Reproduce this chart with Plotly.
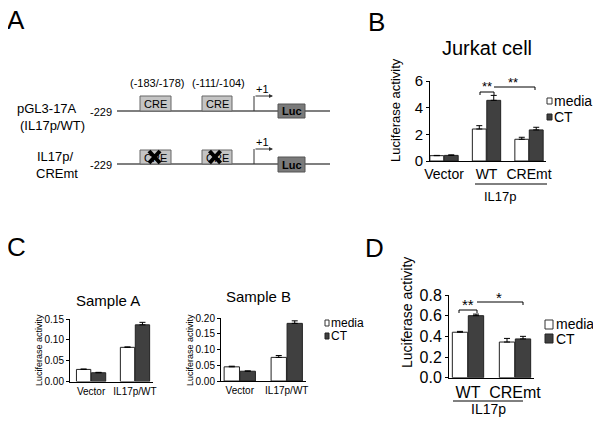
import plotly.graph_objects as go

# The page body has an 8px margin, so the figure is sized to fit inside it.
OFF = 8
W, H = 601 - 2 * OFF, 425 - 2 * OFF
FONT = "Liberation Sans, Arial, sans-serif"

# ---------------- data ----------------
# Panel B: Jurkat cell
b_cats = ["Vector", "WT", "CREmt"]
b_media = [0.40, 2.40, 1.63]
b_media_err = [0.02, 0.25, 0.15]
b_ct = [0.42, 4.55, 2.33]
b_ct_err = [0.04, 0.37, 0.20]
b_yticks = [0, 2, 4, 6]

# Panel C: Sample A / Sample B
c_cats = ["Vector", "IL17p/WT"]
ca_media = [0.029, 0.082]
ca_media_err = [0.001, 0.001]
ca_ct = [0.021, 0.136]
ca_ct_err = [0.001, 0.006]
ca_yticks = [0.00, 0.05, 0.10, 0.15]

cb_media = [0.045, 0.075]
cb_media_err = [0.002, 0.006]
cb_ct = [0.031, 0.183]
cb_ct_err = [0.001, 0.008]
cb_yticks = [0.00, 0.05, 0.10, 0.15, 0.20]

# Panel D
d_cats = ["WT", "CREmt"]
d_media = [0.44, 0.345]
d_media_err = [0.008, 0.035]
d_ct = [0.60, 0.375]
d_ct_err = [0.015, 0.025]
d_yticks = [0.0, 0.2, 0.4, 0.6, 0.8]

series_names = ["media", "CT"]
MEDIA_FILL = "white"
CT_FILL = "#404040"


def P(x):
    return (x - OFF) / W


def Q(y):
    return 1 - (y - OFF) / H


fig = go.Figure()


def add_pair(cats, med, med_err, ct, ct_err, xa, ya):
    for name, vals, err, fill in [
        (series_names[0], med, med_err, MEDIA_FILL),
        (series_names[1], ct, ct_err, CT_FILL),
    ]:
        fig.add_trace(go.Bar(
            x=cats, y=vals, name=name, xaxis=xa, yaxis=ya,
            marker=dict(color=fill, line=dict(color="#222222", width=1)),
            error_y=dict(type="data", array=err, arrayminus=[0] * len(err),
                         symmetric=False, color="black", thickness=1, width=3),
            showlegend=False,
        ))


add_pair(b_cats, b_media, b_media_err, b_ct, b_ct_err, "x", "y")
add_pair(c_cats, ca_media, ca_media_err, ca_ct, ca_ct_err, "x2", "y2")
add_pair(c_cats, cb_media, cb_media_err, cb_ct, cb_ct_err, "x3", "y3")
add_pair(d_cats, d_media, d_media_err, d_ct, d_ct_err, "x4", "y4")


def xax(px0, px1, rng, size, anchor):
    return dict(domain=[P(px0), P(px1)], range=rng, type="category", anchor=anchor,
                showline=True, linecolor="black", linewidth=1, ticks="",
                showgrid=False, zeroline=False, fixedrange=True,
                tickfont=dict(size=size, color="black", family=FONT))


def yax(py0, py1, rng, ticks, fmt, size, anchor):
    return dict(domain=[Q(py0), Q(py1)], range=rng, anchor=anchor,
                tickvals=ticks, tickformat=fmt,
                showline=True, linecolor="black", linewidth=1,
                ticks="outside", ticklen=3, tickwidth=1, tickcolor="black",
                showgrid=False, zeroline=False, fixedrange=True,
                tickfont=dict(size=size, color="black", family=FONT))


fig.update_layout(
    width=W, height=H, margin=dict(l=0, r=0, t=0, b=0, pad=0, autoexpand=False),
    paper_bgcolor="white", plot_bgcolor="white",
    barmode="group", bargap=0.32, bargroupgap=0.04,
    font=dict(family=FONT, color="black"),
    showlegend=False,
    xaxis=xax(430, 546, [-0.33, 2.4], 14, "y"),
    yaxis=yax(161, 81, [0, 6], b_yticks, "d", 15, "x"),
    xaxis2=xax(70, 153, [-0.48, 1.41], 10, "y2"),
    yaxis2=yax(381.5, 319, [0, 0.15], ca_yticks, ".2f", 10, "x2"),
    xaxis3=xax(221, 306, [-0.40, 1.41], 10, "y3"),
    yaxis3=yax(381, 318, [0, 0.20], cb_yticks, ".2f", 10, "x3"),
    xaxis4=xax(449, 534, [-0.404, 1.404], 16, "y4"),
    yaxis4=yax(377.7, 295, [0, 0.8], d_yticks, ".1f", 16, "x4"),
)

ann = []
shapes = []


def text(x, y, s, size, xanchor="center", angle=0, color="black", bold=False):
    if bold:
        s = "<b>" + s + "</b>"
    ann.append(dict(x=P(x), y=Q(y), xref="paper", yref="paper", text=s,
                    showarrow=False, xanchor=xanchor, yanchor="middle",
                    textangle=angle, borderpad=0,
                    font=dict(size=size, color=color, family=FONT)))


def line(x0, y0, x1, y1, color="black", width=1):
    shapes.append(dict(type="line", xref="paper", yref="paper",
                       x0=P(x0), y0=Q(y0), x1=P(x1), y1=Q(y1),
                       line=dict(color=color, width=width)))


def rect(x0, y0, x1, y1, fill, color="#333333", width=1):
    shapes.append(dict(type="rect", xref="paper", yref="paper",
                       x0=P(x0), y0=Q(y0), x1=P(x1), y1=Q(y1),
                       fillcolor=fill, line=dict(color=color, width=width)))


# panel letters
text(16, 20, "A", 26)
text(376, 22, "B", 26)
text(16, 247, "C", 26)
text(374, 248, "D", 26)

# ---------------- Panel A diagram ----------------
text(157, 83, "(-183/-178)", 11)
text(218, 83, "(-111/-104)", 11)
for yl, ybox, yluc, yarrow, yplus in [(111, (96, 111), (104, 118), 96, 89),
                                      (164, (150, 164), (157, 172), 149, 142)]:
    line(117, yl, 330, yl, color="#555555", width=1.5)
    for bx in [(140, 171), (202, 232)]:
        rect(bx[0], ybox[0], bx[1], ybox[1], "#c4c4c4", color="#666666")
        text((bx[0] + bx[1]) / 2, (ybox[0] + ybox[1]) / 2 + 0.5, "CRE", 11)
    rect(278, yluc[0], 305, yluc[1], "#7a7a7a", color="#555555")
    text(291.5, (yluc[0] + yluc[1]) / 2 + 0.5, "Luc", 11, bold=True)
    line(254, yl, 254, yarrow, color="#333333", width=1)
    ann.append(dict(x=P(273), y=Q(yarrow), ax=-19, ay=0,
                    xref="paper", yref="paper", axref="pixel", ayref="pixel",
                    text="", showarrow=True, arrowhead=2, arrowsize=0.8,
                    arrowwidth=1, arrowcolor="#333333"))
    text(262, yplus, "+1", 11)
    text(113, yl + 1, "-229", 11, xanchor="right")

# crosses on mutated CREs
for cx in [154.5, 215]:
    line(cx - 5.5, 151, cx + 5.5, 163, width=4)
    line(cx - 5.5, 163, cx + 5.5, 151, width=4)

text(47, 109, "pGL3-17A", 13)
text(52, 125, "(IL17p/WT)", 13)
text(55, 156, "IL17p/", 13)
text(57, 173, "CREmt", 13)

# ---------------- Panel B annotations ----------------
text(487, 48, "Jurkat cell", 20)
text(395, 110, "Luciferase activity", 13, angle=-90)
line(475, 184, 547, 184, width=1)
text(500, 197, "IL17p", 13)
# significance
line(480, 92, 494, 92)
line(480, 92, 480, 95)
line(494, 92, 494, 95)
text(487, 86, "**", 13)
line(494, 87, 535, 87)
line(535, 87, 535, 90)
text(513, 82, "**", 13)
# legend
rect(547, 98, 552, 104, "white", color="#333333")
rect(547, 114, 552, 120, CT_FILL, color="#222222")
text(553, 101, series_names[0], 14, xanchor="left")
text(553, 117, series_names[1], 14, xanchor="left")

# ---------------- Panel C annotations ----------------
text(108, 300, "Sample A", 15)
text(259, 296, "Sample B", 15)
text(39, 350, "Luciferase activity", 9, angle=-90)
text(190, 350, "Luciferase activity", 9, angle=-90)
rect(325, 320, 329, 326, "white", color="#333333")
rect(325, 333, 329, 339, CT_FILL, color="#222222")
text(330, 323, series_names[0], 12, xanchor="left")
text(330, 336, series_names[1], 12, xanchor="left")

# ---------------- Panel D annotations ----------------
text(407, 313, "Luciferase activity", 14, angle=-90)
line(453, 401, 523, 401)
text(488, 409, "IL17p", 14)
line(459, 310, 477, 310)
line(459, 310, 459, 313)
line(477, 310, 477, 313)
text(468, 304, "**", 15)
line(477, 302, 523, 302)
line(523, 302, 523, 305)
text(499, 297, "*", 15)
rect(545, 320, 553, 329, "white", color="#333333")
rect(545, 334, 553, 343, CT_FILL, color="#222222")
text(555, 324, series_names[0], 14, xanchor="left")
text(555, 339, series_names[1], 14, xanchor="left")

fig.update_layout(annotations=ann, shapes=shapes)
fig.write_html("out.html")
